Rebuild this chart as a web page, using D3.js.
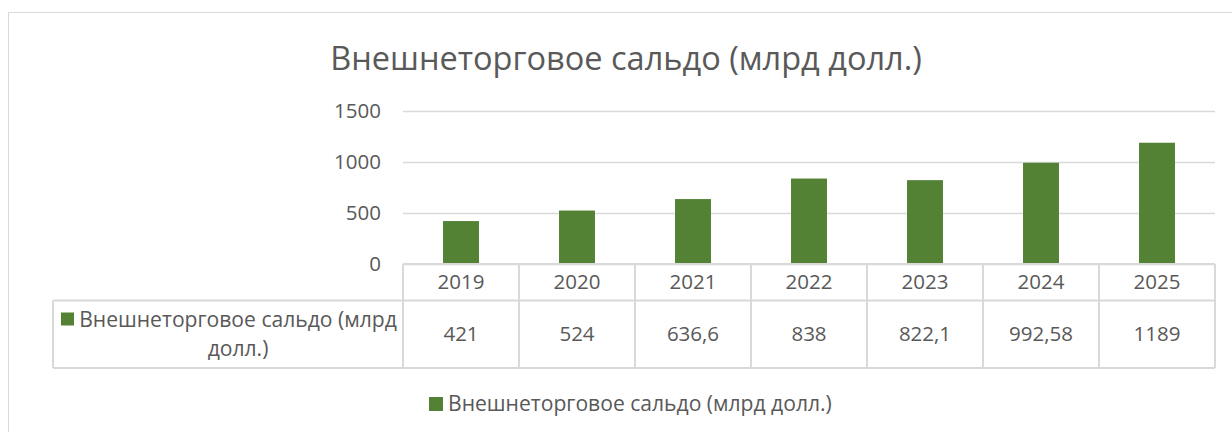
<!DOCTYPE html>
<html>
<head>
<meta charset="utf-8">
<script src="https://cdn.jsdelivr.net/npm/d3@7"></script>
<style>
  body { margin: 0; background: #fff; }
  svg { display: block; font-family: "Open Sans", sans-serif; }
</style>
</head>
<body>
<svg id="chart" width="1232" height="432"></svg>
<script>
var chartTitle = "Внешнеторговое сальдо (млрд долл.)";
var seriesName = "Внешнеторговое сальдо (млрд долл.)";
var years = ["2019", "2020", "2021", "2022", "2023", "2024", "2025"];
var values = [421, 524, 636.6, 838, 822.1, 992.58, 1189];
var valueLabels = ["421", "524", "636,6", "838", "822,1", "992,58", "1189"];
var yTicks = [0, 500, 1000, 1500];

var textColor = "#595959";
var gridColor = "#d9d9d9";
var barColor = "#548235";
var fontSize = 20.5;

var svg = d3.select("#chart");

// scale a text's font so it spans the given width (the original used Calibri)
var fitWidth = function(sel, width) {
  var w = sel.node().getComputedTextLength();
  var fs = parseFloat(sel.style("font-size"));
  sel.style("font-size", (fs * width / w) + "px");
};

// outer chart border (runs off the right/bottom edges)
svg.append("rect")
  .attr("x", 8.5).attr("y", 12.5)
  .attr("width", 1240).attr("height", 440)
  .attr("fill", "none").attr("stroke", gridColor);

var title = svg.append("text")
  .attr("x", 626).attr("y", 70)
  .attr("text-anchor", "middle")
  .style("font-size", "30px")
  .style("fill", textColor)
  .text(chartTitle);
fitWidth(title, 592);

var plotLeft = 403, plotRight = 1215;
var plotTop = 111, plotBottom = 264;

var x = d3.scaleBand()
  .domain(years)
  .range([plotLeft, plotRight])
  .paddingInner(0.69)
  .paddingOuter(0.345);

var cols = d3.scaleBand()
  .domain(years)
  .range([plotLeft, plotRight]);

var y = d3.scaleLinear()
  .domain([0, 1500])
  .range([plotBottom, plotTop]);

// gridlines
var grid = d3.axisLeft(y)
  .tickValues(yTicks)
  .tickFormat("")
  .tickSize(-(plotRight - plotLeft));

svg.append("g")
  .attr("transform", "translate(" + plotLeft + ",0)")
  .call(grid)
  .call(function(g) { g.select(".domain").remove(); })
  .selectAll("line")
  .attr("stroke", gridColor)
  .attr("stroke-width", 1.5);

// y labels
var yAxis = d3.axisLeft(y)
  .tickValues(yTicks)
  .tickFormat(d3.format("d"))
  .tickSize(0)
  .tickPadding(22);

svg.append("g")
  .attr("transform", "translate(" + plotLeft + ",0)")
  .call(yAxis)
  .call(function(g) { g.select(".domain").remove(); })
  .selectAll("text")
  .style("font-family", "'Open Sans', sans-serif")
  .style("font-size", fontSize + "px")
  .style("fill", textColor);

// bars
svg.append("g")
  .selectAll("rect")
  .data(values)
  .enter()
  .append("rect")
  .attr("x", function(d, i) { return x(years[i]); })
  .attr("width", x.bandwidth())
  .attr("y", function(d) { return y(d); })
  .attr("height", function(d) { return y(0) - y(d); })
  .attr("fill", barColor);

// data table
var rowTop = plotBottom, rowMid = 300.5, rowBottom = 368;
var legendLeft = 53;
var table = svg.append("g")
  .attr("stroke", gridColor)
  .attr("stroke-width", 2)
  .attr("fill", "none");

table.append("line")
  .attr("x1", plotLeft).attr("x2", plotRight)
  .attr("y1", rowTop).attr("y2", rowTop);
table.append("line")
  .attr("x1", legendLeft).attr("x2", plotRight)
  .attr("y1", rowMid).attr("y2", rowMid);
table.append("line")
  .attr("x1", legendLeft).attr("x2", plotRight)
  .attr("y1", rowBottom).attr("y2", rowBottom);
table.append("line")
  .attr("x1", legendLeft).attr("x2", legendLeft)
  .attr("y1", rowMid).attr("y2", rowBottom);
table.selectAll("line.col")
  .data(years.concat(["end"]))
  .enter()
  .append("line")
  .attr("class", "col")
  .attr("x1", function(d) { return d === "end" ? plotRight : cols(d); })
  .attr("x2", function(d) { return d === "end" ? plotRight : cols(d); })
  .attr("y1", rowTop).attr("y2", rowBottom);

svg.append("g")
  .selectAll("text")
  .data(years)
  .enter()
  .append("text")
  .attr("x", function(d) { return cols(d) + cols.bandwidth() / 2; })
  .attr("y", (rowTop + rowMid) / 2)
  .attr("dy", "0.35em")
  .attr("text-anchor", "middle")
  .style("font-size", fontSize + "px")
  .style("fill", textColor)
  .text(function(d) { return d; });

svg.append("g")
  .selectAll("text")
  .data(valueLabels)
  .enter()
  .append("text")
  .attr("x", function(d, i) { return cols(years[i]) + cols.bandwidth() / 2; })
  .attr("y", (rowMid + rowBottom) / 2)
  .attr("dy", "0.35em")
  .attr("text-anchor", "middle")
  .style("font-size", fontSize + "px")
  .style("fill", textColor)
  .text(function(d) { return d; });

// bottom legend
svg.append("rect")
  .attr("x", 429).attr("y", 397)
  .attr("width", 14).attr("height", 14)
  .attr("fill", barColor);
var legendText = svg.append("text")
  .attr("x", 448).attr("y", 404)
  .attr("dy", "0.35em")
  .style("font-size", "18px")
  .style("fill", textColor)
  .text(seriesName);
fitWidth(legendText, 384);
var keySize = legendText.style("font-size");

// legend key inside the table
svg.append("rect")
  .attr("x", 61).attr("y", 312.5)
  .attr("width", 13).attr("height", 13)
  .attr("fill", barColor);
var keyText = svg.append("text")
  .attr("text-anchor", "middle")
  .style("font-size", keySize)
  .style("fill", textColor);
keyText.append("tspan")
  .attr("x", 238).attr("y", 320).attr("dy", "0.35em")
  .text("Внешнеторговое сальдо (млрд");
keyText.append("tspan")
  .attr("x", 238).attr("y", 349).attr("dy", "0.35em")
  .text("долл.)");
</script>
</body>
</html>
